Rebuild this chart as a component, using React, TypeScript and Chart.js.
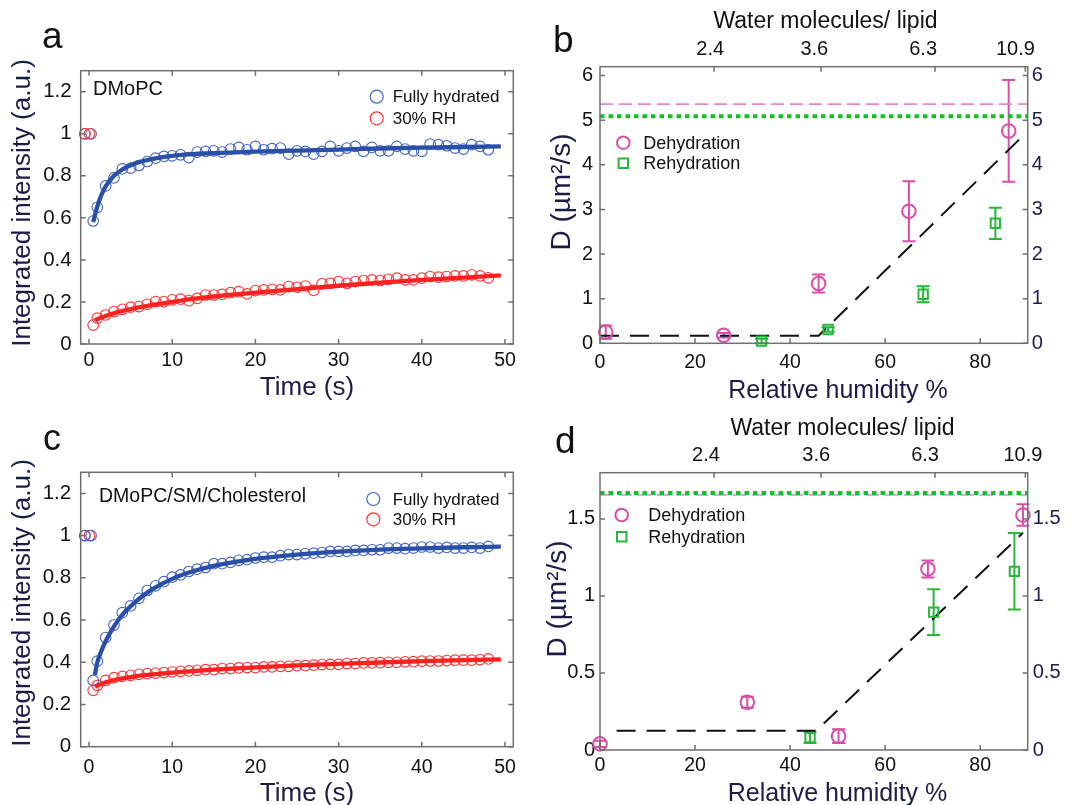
import React, { useEffect, useRef } from "react";
import { Chart, registerables } from "chart.js";

Chart.register(...registerables);

const FONT = '"Liberation Sans", Arial, Helvetica, sans-serif';
const NAVY = "#1c1c48";
const BLUE_PT = "#4363c9";
const BLUE_LINE = "#2a4fa6";
const RED_PT = "#ff3434";
const RED_LINE = "#ff2020";
const PINK = "#d94fa8";
const GREEN = "#25b83a";
const PINK_REF = "#e487c8";
const GREEN_REF = "#14c02a";

// ---------- Panels a / c : recovery curves ----------
const timeS = [0.5, 1, 2, 3, 4, 5, 6, 7, 8, 9, 10, 11, 12, 13, 14, 15, 16, 17, 18, 19, 20, 21, 22, 23, 24, 25, 26, 27, 28, 29, 30, 31, 32, 33, 34, 35, 36, 37, 38, 39, 40, 41, 42, 43, 44, 45, 46, 47, 48];
const timeTicks = [0, 10, 20, 30, 40, 50];
const timeTickLabels = ["0", "10", "20", "30", "40", "50"];
const intensityTicks = [0, 0.2, 0.4, 0.6, 0.8, 1, 1.2];
const intensityTickLabels = ["0", "0.2", "0.4", "0.6", "0.8", "1", "1.2"];

const preBleachTimeRed = [-0.5, 0.05];
const preBleachTimeBlue = [-0.5, 0.25];
const preBleachValue = [1, 1];

// panel a (DMoPC)
const fullyA = [0.585, 0.65, 0.752, 0.79, 0.833, 0.837, 0.849, 0.868, 0.884, 0.892, 0.895, 0.9, 0.887, 0.913, 0.916, 0.919, 0.913, 0.927, 0.935, 0.924, 0.94, 0.924, 0.929, 0.932, 0.903, 0.919, 0.916, 0.903, 0.916, 0.94, 0.919, 0.932, 0.94, 0.916, 0.935, 0.919, 0.919, 0.94, 0.927, 0.919, 0.916, 0.951, 0.948, 0.943, 0.932, 0.927, 0.948, 0.94, 0.924];
const rhA = [0.09, 0.123, 0.138, 0.154, 0.165, 0.175, 0.178, 0.189, 0.202, 0.202, 0.21, 0.213, 0.206, 0.217, 0.233, 0.233, 0.236, 0.244, 0.249, 0.238, 0.254, 0.257, 0.26, 0.257, 0.273, 0.27, 0.276, 0.255, 0.286, 0.289, 0.297, 0.289, 0.297, 0.302, 0.305, 0.302, 0.308, 0.313, 0.305, 0.305, 0.313, 0.321, 0.318, 0.321, 0.324, 0.324, 0.329, 0.324, 0.315];
const fitFullyTimeA = [0.5, 1, 1.5, 2, 3, 4, 5, 6, 7, 8, 10, 12, 15, 20, 25, 30, 35, 40, 45, 49.5];
const fitFullyA = [0.58, 0.655, 0.71, 0.75, 0.8, 0.83, 0.85, 0.865, 0.875, 0.883, 0.895, 0.902, 0.908, 0.915, 0.92, 0.925, 0.93, 0.934, 0.937, 0.94];
const fitRhTimeA = [0.7, 1, 2, 3, 4, 5, 6, 8, 10, 12, 15, 20, 25, 30, 35, 40, 45, 49.5];
const fitRhA = [0.11, 0.118, 0.133, 0.146, 0.157, 0.166, 0.174, 0.188, 0.2, 0.212, 0.226, 0.244, 0.261, 0.277, 0.292, 0.305, 0.316, 0.326];

// panel c (DMoPC/SM/Cholesterol)
const fullyC = [0.314, 0.405, 0.517, 0.576, 0.635, 0.667, 0.703, 0.74, 0.762, 0.782, 0.803, 0.814, 0.83, 0.841, 0.849, 0.867, 0.867, 0.873, 0.883, 0.886, 0.894, 0.898, 0.898, 0.905, 0.91, 0.91, 0.914, 0.917, 0.92, 0.925, 0.925, 0.925, 0.93, 0.93, 0.933, 0.933, 0.941, 0.941, 0.938, 0.941, 0.946, 0.946, 0.941, 0.944, 0.941, 0.941, 0.944, 0.941, 0.949];
const rhC = [0.267, 0.29, 0.314, 0.327, 0.333, 0.338, 0.343, 0.346, 0.349, 0.351, 0.354, 0.357, 0.359, 0.362, 0.365, 0.365, 0.37, 0.37, 0.373, 0.375, 0.375, 0.378, 0.378, 0.381, 0.381, 0.384, 0.384, 0.386, 0.389, 0.39, 0.39, 0.394, 0.394, 0.397, 0.397, 0.398, 0.4, 0.4, 0.402, 0.403, 0.405, 0.406, 0.406, 0.408, 0.41, 0.41, 0.41, 0.413, 0.416];
const fitFullyTimeC = [0.7, 1, 1.5, 2, 3, 4, 5, 6, 7, 8, 10, 12, 15, 20, 25, 30, 35, 40, 45, 49.5];
const fitFullyC = [0.34, 0.4, 0.455, 0.5, 0.57, 0.625, 0.665, 0.7, 0.73, 0.755, 0.795, 0.825, 0.857, 0.89, 0.91, 0.924, 0.934, 0.94, 0.945, 0.948];
const fitRhTimeC = [0.7, 1, 2, 3, 4, 5, 6, 8, 10, 12, 15, 20, 25, 30, 35, 40, 45, 49.5];
const fitRhC = [0.285, 0.29, 0.305, 0.316, 0.324, 0.33, 0.336, 0.344, 0.351, 0.357, 0.365, 0.376, 0.385, 0.392, 0.399, 0.405, 0.41, 0.414];

// ---------- Panels b / d : diffusion vs humidity ----------
const rhTicks = [0, 20, 40, 60, 80];
const rhTickLabels = ["0", "20", "40", "60", "80"];
const waterLabels = ["2.4", "3.6", "6.3", "10.9"];
const waterLabelRhB = [23.2, 45.1, 68.0, 87.4];
const waterLabelRhD = [22.3, 45.5, 68.4, 89.0];
const waterTickRh = [24, 46.5, 70.5, 89.5];

// panel b (DMoPC)
const dTicksB = [0, 1, 2, 3, 4, 5, 6];
const dTickLabelsB = ["0", "1", "2", "3", "4", "5", "6"];
const dehydRhB = [1.2, 26, 46, 65, 86];
const dehydDB = [0.25, 0.18, 1.34, 2.96, 4.76];
const dehydErrB = [0.15, 0.05, 0.2, 0.67, 1.14];
const rehydRhB = [34, 48, 68, 83.2];
const rehydDB = [0.05, 0.31, 1.1, 2.69];
const rehydErrB = [0.05, 0.05, 0.18, 0.35];
const fitRhB = [0, 46, 89];
const fitDB = [0.17, 0.17, 4.65];
const refDehydB = 5.36;
const refRehydB = 5.09;

// panel d (DMoPC/SM/Cholesterol)
const dTicksD = [0, 0.5, 1, 1.5];
const dTickLabelsD = ["0", "0.5", "1", "1.5"];
const dehydRhD = [0, 31, 50.2, 69, 89];
const dehydDD = [0.04, 0.31, 0.09, 1.175, 1.525];
const dehydErrD = [0.02, 0.035, 0.045, 0.055, 0.07];
const rehydRhD = [44.2, 70.2, 87.2];
const rehydDD = [0.08, 0.895, 1.16];
const rehydErrD = [0.035, 0.148, 0.248];
const fitRhD = [3.5, 45.5, 89];
const fitDD = [0.125, 0.125, 1.41];
const refDehydD = 1.655;
const refRehydD = 1.668;

const rhRange = [0, 90];

// ---------- helpers ----------
const pts = (xs: number[], ys: number[]) => xs.map((x, i) => ({ x, y: ys[i] }));

function axis(o: any) {
  const horiz = o.position === "top" || o.position === "bottom";
  return {
    type: "linear",
    position: o.position,
    min: o.min,
    max: o.max,
    afterBuildTicks: (s: any) => {
      s.ticks = o.ticks.map((v: number) => ({ value: v }));
    },
    afterFit: (s: any) => {
      if (horiz) s.height = o.size;
      else s.width = o.size;
      s.paddingLeft = 0;
      s.paddingRight = 0;
      s.paddingTop = 0;
      s.paddingBottom = 0;
    },
    grid: { display: false, drawTicks: false },
    border: { display: false },
    ticks: {
      display: !!o.labels,
      autoSkip: false,
      maxRotation: 0,
      minRotation: 0,
      padding: o.pad,
      color: o.color || "#111",
      font: { family: FONT, size: o.fontSize },
      callback: (_v: any, i: number) => (o.labels ? o.labels[i] : ""),
    },
  };
}

function makeDecor(d: any) {
  return {
    id: "decor",
    beforeDatasetsDraw(chart: any) {
      const ctx = chart.ctx;
      for (const eb of d.errorBars || []) {
        const xs = chart.scales.x;
        const ys = chart.scales.y;
        ctx.save();
        ctx.strokeStyle = eb.color;
        ctx.lineWidth = eb.width;
        eb.xs.forEach((xv: number, i: number) => {
          const px = xs.getPixelForValue(xv);
          const pt = ys.getPixelForValue(eb.ys[i] + eb.errs[i]);
          const pb = ys.getPixelForValue(eb.ys[i] - eb.errs[i]);
          ctx.beginPath();
          ctx.moveTo(px, pt);
          ctx.lineTo(px, pb);
          ctx.moveTo(px - eb.cap, pt);
          ctx.lineTo(px + eb.cap, pt);
          ctx.moveTo(px - eb.cap, pb);
          ctx.lineTo(px + eb.cap, pb);
          ctx.stroke();
        });
        ctx.restore();
      }
    },
    afterDraw(chart: any) {
      const ctx = chart.ctx;
      const ca = chart.chartArea;
      const ox = d.ox;
      const oy = d.oy;
      ctx.save();
      ctx.strokeStyle = "#707070";
      ctx.lineWidth = 1.5;
      ctx.strokeRect(ca.left, ca.top, ca.right - ca.left, ca.bottom - ca.top);
      const L = 5;
      ctx.beginPath();
      for (const tm of d.tickMarks) {
        const sc = chart.scales[tm.scale];
        const vals = tm.values || sc.ticks.map((t: any) => t.value);
        for (const v of vals) {
          const p = sc.getPixelForValue(v);
          if (tm.side === "bottom") { ctx.moveTo(p, ca.bottom); ctx.lineTo(p, ca.bottom - L); }
          if (tm.side === "top") { ctx.moveTo(p, ca.top); ctx.lineTo(p, ca.top + L); }
          if (tm.side === "left") { ctx.moveTo(ca.left, p); ctx.lineTo(ca.left + L, p); }
          if (tm.side === "right") { ctx.moveTo(ca.right, p); ctx.lineTo(ca.right - L, p); }
        }
      }
      ctx.stroke();
      for (const t of d.texts) {
        ctx.save();
        ctx.font = `${t.size}px ${FONT}`;
        ctx.fillStyle = t.color || "#111";
        ctx.textAlign = t.align || "left";
        ctx.textBaseline = "alphabetic";
        ctx.translate(t.x - ox, t.y - oy);
        if (t.rotate) ctx.rotate(t.rotate);
        ctx.fillText(t.text, 0, 0);
        ctx.restore();
      }
      for (const it of d.legend) {
        ctx.save();
        ctx.strokeStyle = it.color;
        ctx.lineWidth = it.lw;
        const mx = it.x - ox;
        const my = it.y - oy;
        ctx.beginPath();
        if (it.kind === "circle") ctx.arc(mx, my, it.r, 0, Math.PI * 2);
        else ctx.rect(mx - it.r, my - it.r, 2 * it.r, 2 * it.r);
        ctx.stroke();
        ctx.font = `${it.size}px ${FONT}`;
        ctx.fillStyle = "#111";
        ctx.textAlign = "left";
        ctx.textBaseline = "middle";
        ctx.fillText(it.text, it.tx - ox, my + 1);
        ctx.restore();
      }
      ctx.restore();
    },
  };
}

function baseOptions(padding: any, scales: any) {
  return {
    responsive: false,
    animation: false,
    devicePixelRatio: 1,
    events: [],
    layout: { padding },
    plugins: { legend: { display: false }, tooltip: { enabled: false } },
    scales,
  };
}

function timeConfig(p: any) {
  return {
    type: "scatter",
    data: {
      datasets: [
        { type: "line", data: pts(p.fitRhT, p.fitRh), borderColor: RED_LINE, borderWidth: 4.3, pointRadius: 0, cubicInterpolationMode: "monotone", order: 0, clip: false },
        { type: "line", data: pts(p.fitFullT, p.fitFull), borderColor: BLUE_LINE, borderWidth: 4.3, pointRadius: 0, cubicInterpolationMode: "monotone", order: 1, clip: false },
        { type: "scatter", data: [...pts(preBleachTimeRed, preBleachValue), ...pts(timeS, p.rh)], borderColor: RED_PT, backgroundColor: "rgba(0,0,0,0)", pointRadius: 5.3, borderWidth: 1.1, order: 2, clip: false },
        { type: "scatter", data: [...pts(preBleachTimeBlue, preBleachValue), ...pts(timeS, p.full)], borderColor: BLUE_PT, backgroundColor: "rgba(0,0,0,0)", pointRadius: 5.3, borderWidth: 1.1, order: p.blueOnTop ? 1.5 : 3, clip: false },
      ],
    },
    options: baseOptions(
      { left: 0, right: p.padRight, top: p.padTop, bottom: 0 },
      {
        x: axis({ position: "bottom", min: -1, max: 51, ticks: timeTicks, labels: timeTickLabels, size: p.xSize, pad: p.xPad, fontSize: 19.5 }),
        y: axis({ position: "left", min: 0, max: 1.3, ticks: intensityTicks, labels: intensityTickLabels, size: 80.7, pad: p.yPad, fontSize: 20.5 }),
      }
    ),
    plugins: [
      makeDecor({
        ox: p.ox,
        oy: p.oy,
        tickMarks: [
          { scale: "x", side: "bottom" },
          { scale: "x", side: "top" },
          { scale: "y", side: "left" },
          { scale: "y", side: "right" },
        ],
        texts: p.texts,
        legend: p.legend,
      }),
    ],
  };
}

function humConfig(p: any) {
  return {
    type: "scatter",
    data: {
      datasets: [
        { type: "line", data: pts(rhRange, [p.refDehyd, p.refDehyd]), borderColor: PINK_REF, borderWidth: 1.6, borderDash: [13, 6], pointRadius: 0, order: 6 },
        { type: "line", data: pts(rhRange, [p.refRehyd, p.refRehyd]), borderColor: GREEN_REF, borderWidth: 4, borderDash: [4.5, 4], pointRadius: 0, order: 5 },
        { type: "line", data: pts(p.fitRh, p.fitD), borderColor: "#111", borderWidth: 2, borderDash: [19, 11], pointRadius: 0, tension: 0, order: 4, clip: false },
        { type: "scatter", data: pts(p.rehydRh, p.rehydD), pointStyle: "rect", pointRadius: 6.6, borderColor: GREEN, backgroundColor: "rgba(0,0,0,0)", borderWidth: 2, order: 2, clip: false },
        { type: "scatter", data: pts(p.dehydRh, p.dehydD), pointStyle: "circle", pointRadius: 6.8, borderColor: PINK, backgroundColor: "rgba(0,0,0,0)", borderWidth: 2, order: 1, clip: false },
      ],
    },
    options: baseOptions(
      { left: 0, right: 0, top: 0, bottom: 0 },
      {
        x: axis({ position: "bottom", min: 0, max: 90, ticks: rhTicks, labels: rhTickLabels, size: p.xSize, pad: p.xPad, fontSize: 19.5 }),
        x2: axis({ position: "top", min: 0, max: 90, ticks: p.waterRh, labels: waterLabels, size: p.x2Size, pad: 5, fontSize: 20 }),
        y: axis({ position: "left", min: 0, max: p.yMax, ticks: p.yTicks, labels: p.yLabels, size: 60, pad: p.yPad, fontSize: 20 }),
        y2: axis({ position: "right", min: 0, max: p.yMax, ticks: p.yTicks, labels: p.yLabels, size: 55.3, pad: p.y2Pad, fontSize: 20, color: NAVY }),
      }
    ),
    plugins: [
      makeDecor({
        ox: p.ox,
        oy: p.oy,
        errorBars: [
          { xs: p.rehydRh, ys: p.rehydD, errs: p.rehydErr, color: GREEN, width: 2, cap: 6.5 },
          { xs: p.dehydRh, ys: p.dehydD, errs: p.dehydErr, color: PINK, width: 2, cap: 6.5 },
        ],
        tickMarks: [
          { scale: "x", side: "bottom" },
          { scale: "x2", side: "top", values: waterTickRh },
          { scale: "y", side: "left" },
          { scale: "y2", side: "right" },
        ],
        texts: p.texts,
        legend: p.legend,
      }),
    ],
  };
}

const configA = () =>
  timeConfig({
    ox: 0, oy: 0, padTop: 70.7, padRight: 26.7, xSize: 61, xPad: 5, yPad: 9,
    full: fullyA, rh: rhA, fitFullT: fitFullyTimeA, fitFull: fitFullyA, fitRhT: fitRhTimeA, fitRh: fitRhA,
    texts: [
      { text: "a", x: 42, y: 48, size: 37 },
      { text: "DMoPC", x: 93, y: 95, size: 20 },
      { text: "Integrated intensity (a.u.)", x: 30, y: 203, size: 26, rotate: -Math.PI / 2, align: "center", color: NAVY },
      { text: "Time (s)", x: 307, y: 395, size: 26, align: "center", color: NAVY },
    ],
    legend: [
      { kind: "circle", x: 376.7, y: 96.7, r: 6.5, lw: 1.2, color: BLUE_PT, text: "Fully hydrated", tx: 392.7, size: 17 },
      { kind: "circle", x: 376.7, y: 118.3, r: 6.5, lw: 1.2, color: RED_PT, text: "30% RH", tx: 392.7, size: 17 },
    ],
  });

const configC = () =>
  timeConfig({
    ox: 0, oy: 405, padTop: 67.3, padRight: 26.7, xSize: 58.3, xPad: 9, yPad: 9.5, blueOnTop: true,
    full: fullyC, rh: rhC, fitFullT: fitFullyTimeC, fitFull: fitFullyC, fitRhT: fitRhTimeC, fitRh: fitRhC,
    texts: [
      { text: "c", x: 43, y: 450, size: 36 },
      { text: "DMoPC/SM/Cholesterol", x: 99, y: 502, size: 19.5 },
      { text: "Integrated intensity (a.u.)", x: 30, y: 603, size: 26, rotate: -Math.PI / 2, align: "center", color: NAVY },
      { text: "Time (s)", x: 307, y: 801, size: 26, align: "center", color: NAVY },
    ],
    legend: [
      { kind: "circle", x: 373.3, y: 499, r: 6.5, lw: 1.2, color: BLUE_PT, text: "Fully hydrated", tx: 392.7, size: 17 },
      { kind: "circle", x: 373.3, y: 519.3, r: 6.5, lw: 1.2, color: RED_PT, text: "30% RH", tx: 392.7, size: 17 },
    ],
  });

const configB = () =>
  humConfig({
    ox: 540, oy: 0, xSize: 61.7, xPad: 8, x2Size: 66.7, yPad: 7, y2Pad: 4,
    yMax: 6.2, yTicks: dTicksB, yLabels: dTickLabelsB, waterRh: waterLabelRhB,
    dehydRh: dehydRhB, dehydD: dehydDB, dehydErr: dehydErrB,
    rehydRh: rehydRhB, rehydD: rehydDB, rehydErr: rehydErrB,
    fitRh: fitRhB, fitD: fitDB, refDehyd: refDehydB, refRehyd: refRehydB,
    texts: [
      { text: "b", x: 553, y: 52, size: 37 },
      { text: "Water molecules/ lipid", x: 825.5, y: 28, size: 23, align: "center" },
      { text: "D (µm²/s)", x: 570, y: 192, size: 28, rotate: -Math.PI / 2, align: "center", color: NAVY },
      { text: "Relative humidity %", x: 838, y: 398, size: 25, align: "center", color: NAVY },
    ],
    legend: [
      { kind: "circle", x: 623.3, y: 142.7, r: 6.3, lw: 2, color: PINK, text: "Dehydration", tx: 643.3, size: 18 },
      { kind: "rect", x: 623.3, y: 163.3, r: 4.7, lw: 2, color: GREEN, text: "Rehydration", tx: 643.3, size: 18 },
    ],
  });

const configD = () =>
  humConfig({
    ox: 540, oy: 405, xSize: 55, xPad: 4, x2Size: 67.7, yPad: 5, y2Pad: 5,
    yMax: 1.8, yTicks: dTicksD, yLabels: dTickLabelsD, waterRh: waterLabelRhD,
    dehydRh: dehydRhD, dehydD: dehydDD, dehydErr: dehydErrD,
    rehydRh: rehydRhD, rehydD: rehydDD, rehydErr: rehydErrD,
    fitRh: fitRhD, fitD: fitDD, refDehyd: refDehydD, refRehyd: refRehydD,
    texts: [
      { text: "d", x: 555, y: 453, size: 37 },
      { text: "Water molecules/ lipid", x: 842.5, y: 435, size: 23, align: "center" },
      { text: "D (µm²/s)", x: 566, y: 599, size: 28, rotate: -Math.PI / 2, align: "center", color: NAVY },
      { text: "Relative humidity %", x: 837.5, y: 801, size: 25, align: "center", color: NAVY },
    ],
    legend: [
      { kind: "circle", x: 621.7, y: 515, r: 6.3, lw: 2, color: PINK, text: "Dehydration", tx: 648.3, size: 18 },
      { kind: "rect", x: 621.7, y: 536.7, r: 4.7, lw: 2, color: GREEN, text: "Rehydration", tx: 648.3, size: 18 },
    ],
  });

function Panel(props: { left: number; top: number; width: number; height: number; build: () => any }) {
  const ref = useRef<HTMLCanvasElement>(null);
  useEffect(() => {
    const chart = new Chart(ref.current as HTMLCanvasElement, props.build() as any);
    return () => chart.destroy();
  }, []);
  return (
    <canvas
      ref={ref}
      width={props.width}
      height={props.height}
      style={{ position: "absolute", left: props.left, top: props.top, width: props.width, height: props.height }}
    />
  );
}

export default function App() {
  return (
    <div style={{ position: "fixed", left: 0, top: 0, width: 1083, height: 805, background: "#fff", overflow: "hidden" }}>
      <Panel left={0} top={0} width={540} height={405} build={configA} />
      <Panel left={0} top={405} width={540} height={400} build={configC} />
      <Panel left={540} top={0} width={543} height={405} build={configB} />
      <Panel left={540} top={405} width={543} height={400} build={configD} />
    </div>
  );
}
